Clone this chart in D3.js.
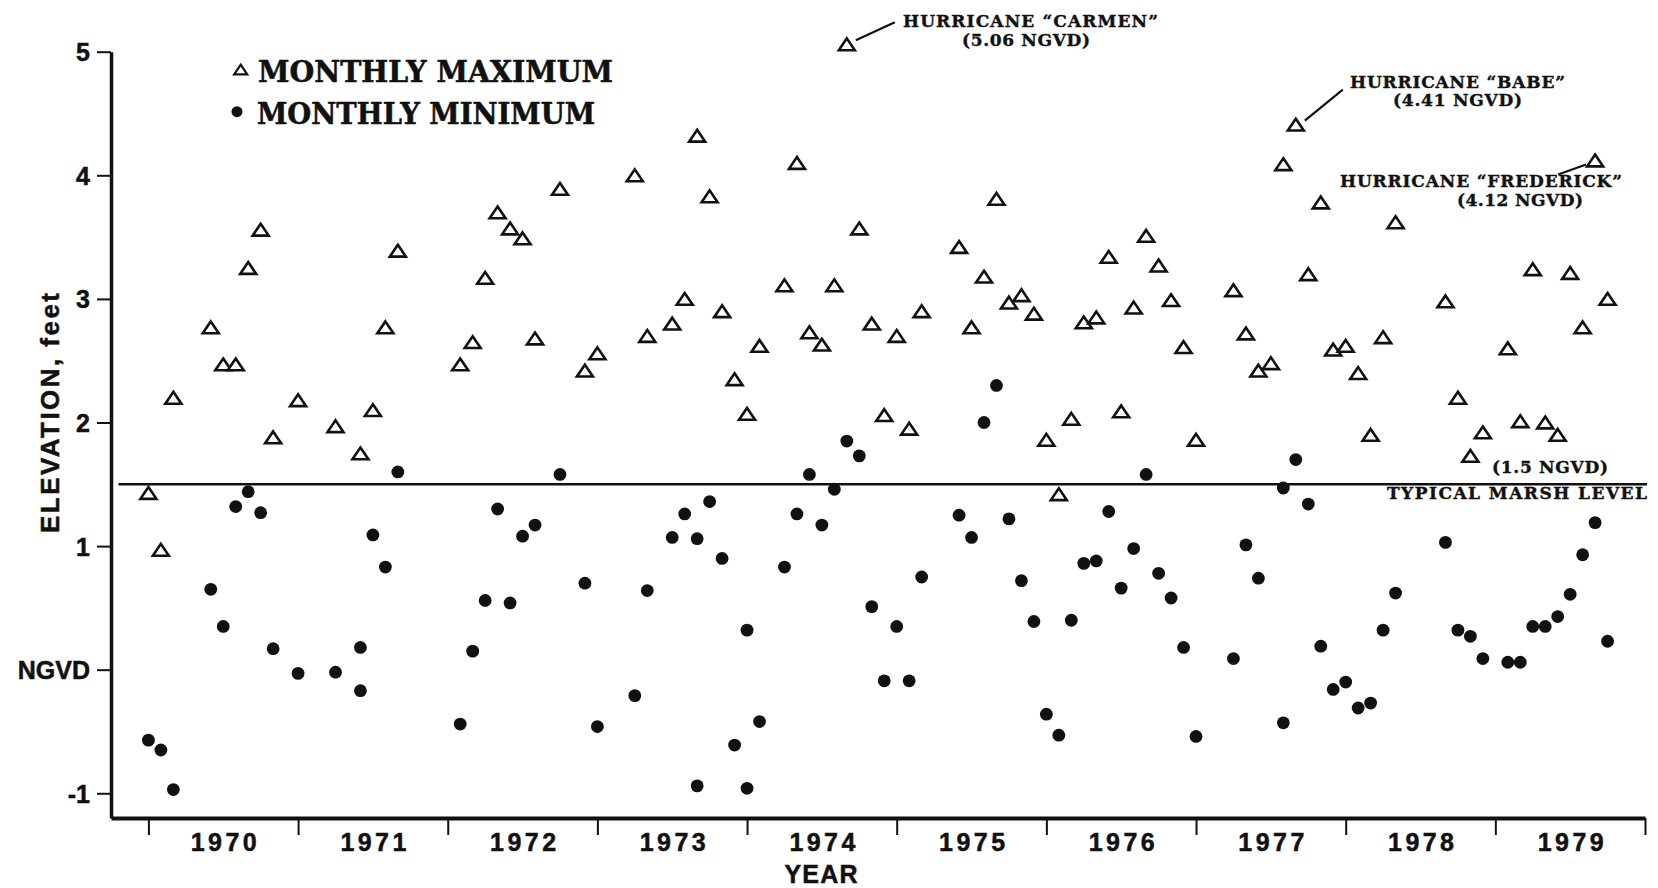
<!DOCTYPE html>
<html>
<head>
<meta charset="utf-8">
<script src="https://cdn.jsdelivr.net/npm/d3@7"></script>
<style>
  html, body { margin: 0; padding: 0; background: #fff; }
  svg { display: block; }
  .sans { font-family: "Liberation Sans", Arial, Helvetica, sans-serif; font-weight: bold; }
  .serif { font-family: "DejaVu Serif", "Liberation Serif", serif; font-weight: bold; }
</style>
</head>
<body>
<svg id="chart" width="1658" height="888"></svg>
<script>
// Monthly maximum water elevations (feet, NGVD)
const maxDates = [
  "1970-01","1970-02","1970-03","1970-06","1970-07","1970-08","1970-09","1970-10","1970-11",
  "1971-01","1971-04","1971-06","1971-07","1971-08","1971-09",
  "1972-02","1972-03","1972-04","1972-05","1972-06","1972-07","1972-08","1972-10","1972-12",
  "1973-01","1973-04","1973-05","1973-07","1973-08","1973-09","1973-10","1973-11","1973-12",
  "1974-01","1974-02","1974-04","1974-05","1974-06","1974-07","1974-08","1974-09","1974-10","1974-11","1974-12",
  "1975-01","1975-02","1975-03","1975-06","1975-07","1975-08","1975-09","1975-10","1975-11","1975-12",
  "1976-01","1976-02","1976-03","1976-04","1976-05","1976-06","1976-07","1976-08","1976-09","1976-10","1976-11","1976-12",
  "1977-01","1977-04","1977-05","1977-06","1977-07","1977-08","1977-09","1977-10","1977-11","1977-12",
  "1978-01","1978-02","1978-03","1978-04","1978-05","1978-09","1978-10","1978-11","1978-12",
  "1979-02","1979-03","1979-04","1979-05","1979-06","1979-07","1979-08","1979-09","1979-10"
];
const maxValues = [
  1.43, 0.97, 2.20, 2.77, 2.47, 2.47, 3.25, 3.56, 1.88,
  2.18, 1.97, 1.75, 2.10, 2.77, 3.39,
  2.47, 2.65, 3.17, 3.70, 3.57, 3.49, 2.68, 3.89, 2.42,
  2.56, 4.00, 2.70, 2.80, 3.00, 4.32, 3.83, 2.90, 2.35,
  2.07, 2.62, 3.11, 4.10, 2.73, 2.63, 3.11, 5.06, 3.57, 2.80, 2.06,
  2.70, 1.95, 2.90, 3.42, 2.77, 3.18, 3.81, 2.97, 3.03, 2.88,
  1.86, 1.42, 2.03, 2.81, 2.85, 3.34, 2.09, 2.93, 3.51, 3.27, 2.99, 2.61,
  1.86, 3.07, 2.72, 2.42, 2.48, 4.09, 4.41, 3.20, 3.78, 2.59,
  2.62, 2.40, 1.90, 2.69, 3.62, 2.98, 2.20, 1.73, 1.92,
  2.60, 2.01, 3.24, 2.00, 1.90, 3.21, 2.77, 4.12, 3.00
];

// Monthly minimum water elevations (feet, NGVD)
const minDates = [
  "1970-01","1970-02","1970-03","1970-06","1970-07","1970-08","1970-09","1970-10","1970-11",
  "1971-01","1971-04","1971-06","1971-06","1971-07","1971-08","1971-09",
  "1972-02","1972-03","1972-04","1972-05","1972-06","1972-07","1972-08","1972-10","1972-12",
  "1973-01","1973-04","1973-05","1973-07","1973-08","1973-09","1973-09","1973-10","1973-11","1973-12",
  "1974-01","1974-01","1974-02","1974-04","1974-05","1974-06","1974-07","1974-08","1974-09","1974-10","1974-11","1974-12",
  "1975-01","1975-02","1975-03","1975-06","1975-07","1975-08","1975-09","1975-10","1975-11","1975-12",
  "1976-01","1976-02","1976-03","1976-04","1976-05","1976-06","1976-07","1976-08","1976-09","1976-10","1976-11","1976-12",
  "1977-01","1977-04","1977-05","1977-06","1977-08","1977-08","1977-09","1977-10","1977-11","1977-12",
  "1978-01","1978-02","1978-03","1978-04","1978-05","1978-09","1978-10","1978-11","1978-12",
  "1979-02","1979-03","1979-04","1979-05","1979-06","1979-07","1979-08","1979-09","1979-10"
];
const minValues = [
  -0.57, -0.65, -0.97, 0.65, 0.35, 1.32, 1.44, 1.27, 0.17,
  -0.03, -0.02, 0.18, -0.17, 1.09, 0.83, 1.60,
  -0.44, 0.15, 0.56, 1.30, 0.54, 1.08, 1.17, 1.58, 0.70,
  -0.46, -0.21, 0.64, 1.07, 1.26, 1.06, -0.94, 1.36, 0.90, -0.61,
  0.32, -0.96, -0.42, 0.83, 1.26, 1.58, 1.17, 1.46, 1.85, 1.73, 0.51, -0.09,
  0.35, -0.09, 0.75, 1.25, 1.07, 2.00, 2.30, 1.22, 0.72, 0.39,
  -0.36, -0.53, 0.40, 0.86, 0.88, 1.28, 0.66, 0.98, 1.58, 0.78, 0.58, 0.18,
  -0.54, 0.09, 1.01, 0.74, 1.47, -0.43, 1.70, 1.34, 0.19, -0.16,
  -0.10, -0.31, -0.27, 0.32, 0.62, 1.03, 0.32, 0.27, 0.09,
  0.06, 0.06, 0.35, 0.35, 0.43, 0.61, 0.93, 1.19, 0.23
];

// Axis ticks and labels
const years = [1970, 1971, 1972, 1973, 1974, 1975, 1976, 1977, 1978, 1979];
const yTickValues = [-1, 0, 1, 2, 3, 4, 5];
const yTickLabels = ["-1", "NGVD", "1", "2", "3", "4", "5"];

// Reference level and storm annotations
const marshLevel = 1.5;
const hurricanes = [
  { name: "HURRICANE \u201CCARMEN\u201D", note: "(5.06 NGVD)", date: "1974-09", value: 5.06 },
  { name: "HURRICANE \u201CBABE\u201D", note: "(4.41 NGVD)", date: "1977-09", value: 4.41 },
  { name: "HURRICANE \u201CFREDERICK\u201D", note: "(4.12 NGVD)", date: "1979-09", value: 4.12 }
];

const toYear = s => { const [y, m] = s.split("-").map(Number); return y + (m - 1) / 12; };

const svg = d3.select("#chart");
svg.append("rect").attr("width", 1658).attr("height", 888).attr("fill", "#fff");

const x = d3.scaleLinear().domain([1969.75, 1980]).range([111, 1645]);
const y = d3.scaleLinear().domain([-1.2, 5]).range([818, 51.7]);

const ink = "#111";

// Y axis
const yAxis = svg.append("g")
  .attr("transform", `translate(${x.range()[0]},0)`)
  .call(d3.axisLeft(y).tickValues(yTickValues)
    .tickFormat((d, i) => yTickLabels[i]).tickSize(14).tickSizeOuter(0).tickPadding(7));
yAxis.select(".domain").attr("stroke", ink).attr("stroke-width", 3.5);
yAxis.selectAll(".tick line").attr("stroke", ink).attr("stroke-width", 2);
yAxis.selectAll(".tick text").attr("class", "sans").attr("fill", ink)
  .attr("stroke", ink).attr("stroke-width", 0.5)
  .style("font-size", "25px").attr("dy", "0.36em");

// X axis: year boundary ticks
const xAxis = svg.append("g")
  .attr("transform", `translate(0,${y.range()[0]})`)
  .call(d3.axisBottom(x).tickValues(years.concat([1980])).tickFormat("").tickSize(17).tickSizeOuter(0));
xAxis.select(".domain").attr("stroke", ink).attr("stroke-width", 4);
xAxis.selectAll(".tick line").attr("stroke", ink).attr("stroke-width", 2);

// X axis: year labels centred in each year
const xLabels = svg.append("g")
  .attr("transform", `translate(0,${y.range()[0]})`)
  .call(d3.axisBottom(x).tickValues(years.map(v => v + 0.5)).tickFormat(d => String(Math.floor(d))).tickSize(0));
xLabels.select(".domain").remove();
xLabels.selectAll(".tick text").attr("class", "sans").attr("fill", ink)
  .attr("stroke", ink).attr("stroke-width", 0.5)
  .style("font-size", "25px").attr("y", 33).attr("dy", 0)
  .attr("textLength", 66).attr("lengthAdjust", "spacing");

// Axis titles
svg.append("text").attr("class", "sans")
  .attr("x", 821).attr("y", 883).attr("text-anchor", "middle")
  .style("font-size", "25px").attr("fill", ink)
  .attr("stroke", ink).attr("stroke-width", 0.5)
  .attr("textLength", 73).attr("lengthAdjust", "spacing")
  .text("YEAR");
svg.append("text").attr("class", "sans")
  .attr("transform", "translate(59,413) rotate(-90)").attr("text-anchor", "middle")
  .style("font-size", "26px").attr("fill", ink)
  .attr("stroke", ink).attr("stroke-width", 0.5)
  .attr("textLength", 240).attr("lengthAdjust", "spacing")
  .text("ELEVATION, feet");

// Typical marsh level reference line
svg.append("line")
  .attr("x1", x(1969.8)).attr("x2", x(1980) + 2)
  .attr("y1", y(marshLevel)).attr("y2", y(marshLevel))
  .attr("stroke", ink).attr("stroke-width", 2.4);
svg.append("text").attr("class", "serif")
  .attr("x", 1492).attr("y", 473).style("font-size", "17px").attr("fill", ink)
  .attr("stroke", ink).attr("stroke-width", 0.4)
  .attr("textLength", 116).attr("lengthAdjust", "spacing")
  .text("(1.5 NGVD)");
svg.append("text").attr("class", "serif")
  .attr("x", 1387).attr("y", 499).style("font-size", "17px").attr("fill", ink)
  .attr("stroke", ink).attr("stroke-width", 0.4)
  .attr("textLength", 260).attr("lengthAdjust", "spacing")
  .text("TYPICAL MARSH LEVEL");

// Open triangle marker, centred on its bounding box
const openTriangle = {
  draw(ctx, size) {
    const w = Math.sqrt(size), h = w * 0.74;
    ctx.moveTo(0, -h / 2);
    ctx.lineTo(w / 2, h / 2);
    ctx.lineTo(-w / 2, h / 2);
    ctx.closePath();
  }
};

const maxData = maxDates.map((d, i) => ({ t: toYear(d), v: maxValues[i] }));
const minData = minDates.map((d, i) => ({ t: toYear(d), v: minValues[i] }));

svg.append("g").selectAll("circle").data(minData).join("circle")
  .attr("cx", d => x(d.t)).attr("cy", d => y(d.v)).attr("r", 6.4)
  .attr("fill", ink);

svg.append("g").selectAll("path").data(maxData).join("path")
  .attr("transform", d => `translate(${x(d.t)},${y(d.v)})`)
  .attr("d", d3.symbol().type(openTriangle).size(16 * 16)())
  .attr("fill", "#fff").attr("stroke", ink).attr("stroke-width", 2.6)
  .attr("stroke-linejoin", "miter");

// Hurricane annotations
const annoLayout = [
  { nameX: 903, nameY: 27, nameW: 255, noteX: 962, noteY: 46, noteW: 128, from: [9, -4], to: [48, -22] },
  { nameX: 1350, nameY: 88, nameW: 215, noteX: 1393, noteY: 106, noteW: 129, from: [9, -4], to: [47, -35] },
  { nameX: 1340, nameY: 187, nameW: 282, noteX: 1457, noteY: 206, noteW: 126, from: [-9, 4], to: [-37, 14] }
];
hurricanes.forEach((h, i) => {
  const L = annoLayout[i];
  const px = x(toYear(h.date)), py = y(h.value);
  svg.append("line")
    .attr("x1", px + L.from[0]).attr("y1", py + L.from[1])
    .attr("x2", px + L.to[0]).attr("y2", py + L.to[1])
    .attr("stroke", ink).attr("stroke-width", 2.2);
  svg.append("text").attr("class", "serif")
    .attr("x", L.nameX).attr("y", L.nameY).style("font-size", "17px").attr("fill", ink)
    .attr("stroke", ink).attr("stroke-width", 0.4)
    .attr("textLength", L.nameW).attr("lengthAdjust", "spacing").text(h.name);
  svg.append("text").attr("class", "serif")
    .attr("x", L.noteX).attr("y", L.noteY).style("font-size", "17px").attr("fill", ink)
    .attr("stroke", ink).attr("stroke-width", 0.4)
    .attr("textLength", L.noteW).attr("lengthAdjust", "spacing").text(h.note);
});

// Legend
const legend = svg.append("g");
legend.append("path")
  .attr("transform", "translate(240.7,69.5)")
  .attr("d", d3.symbol().type(openTriangle).size(13 * 13)())
  .attr("fill", "#fff").attr("stroke", ink).attr("stroke-width", 2.2);
legend.append("circle").attr("cx", 237).attr("cy", 111.7).attr("r", 5.5).attr("fill", ink);
legend.append("text").attr("class", "serif")
  .attr("x", 258).attr("y", 82).style("font-size", "30px").attr("fill", ink)
  .attr("stroke", ink).attr("stroke-width", 0.6)
  .attr("textLength", 355).attr("lengthAdjust", "spacingAndGlyphs")
  .text("MONTHLY MAXIMUM");
legend.append("text").attr("class", "serif")
  .attr("x", 257).attr("y", 124).style("font-size", "30px").attr("fill", ink)
  .attr("stroke", ink).attr("stroke-width", 0.6)
  .attr("textLength", 338).attr("lengthAdjust", "spacingAndGlyphs")
  .text("MONTHLY MINIMUM");
</script>
</body>
</html>
